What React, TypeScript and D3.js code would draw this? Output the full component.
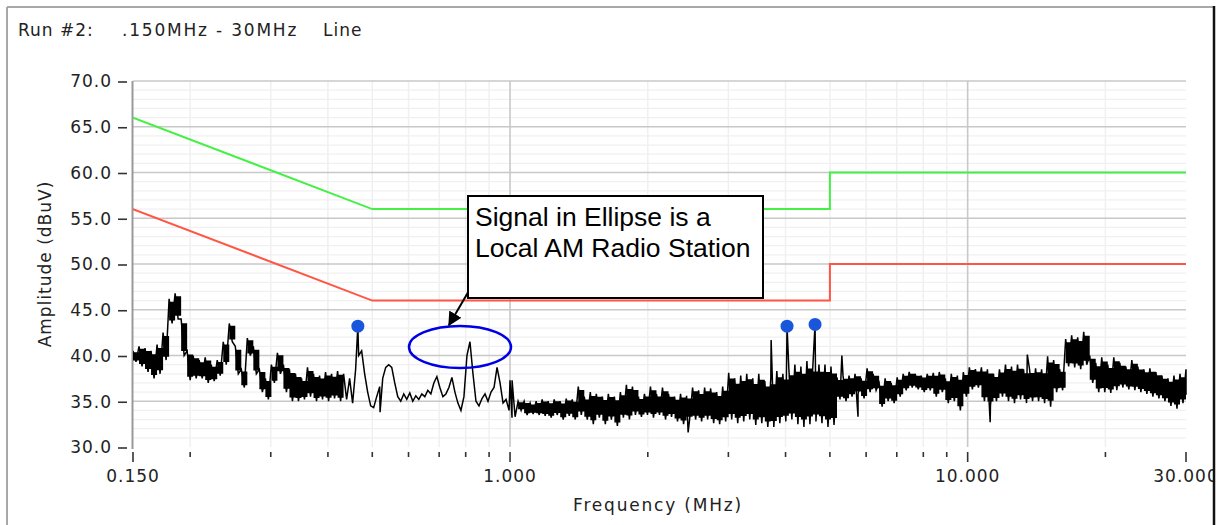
import React, { useEffect } from 'react';
import * as d3 from 'd3';

const SWEEP_START = 0.15;
const SWEEP_STOP = 30;

// Measured trace, per sweep bin: first and second reading of each bin (dBuV)
const traceHi = [
  40.5, 41.0, 40.8, 40.5, 41.2, 42.5, 46.2, 46.8, 44.0, 40.5,
  40.0, 39.5, 39.8, 39.0, 39.5, 41.5, 43.5, 41.0, 38.5, 41.9,
  41.0, 38.5, 37.5, 39.0, 40.3, 39.0, 38.5, 38.0, 37.5, 38.7,
  38.0, 37.8, 38.2, 38.0, 38.3, 38.0, 37.5, 38.5, 40.5, 36.0,
  34.3, 36.6, 38.7, 38.7, 35.5, 35.8, 35.9, 35.6, 35.8, 36.2,
  37.0, 36.5, 35.8, 37.6, 34.8, 35.5, 41.5, 35.0, 35.3, 35.0,
  36.5, 37.0, 35.2, 37.3, 35.0, 35.0, 34.8, 35.0, 35.2, 35.0,
  35.2, 35.0, 35.3, 35.2, 36.6, 35.5, 36.0, 35.8, 35.5, 35.8,
  35.5, 36.0, 36.8, 36.6, 35.5, 35.8, 36.6, 35.8, 36.5, 35.8,
  35.5, 35.8, 35.6, 36.5, 36.2, 36.5, 36.4, 36.0, 36.6, 38.1,
  37.5, 37.8, 38.0, 37.5, 38.0, 37.2, 37.5, 38.3, 38.0, 38.5,
  39.0, 38.8, 39.4, 39.0, 39.0, 39.0, 38.8, 37.6, 37.8, 37.8,
  38.0, 37.5, 38.6, 38.0, 37.0, 37.5, 37.0, 37.6, 38.0, 38.2,
  38.0, 37.8, 38.0, 38.1, 38.2, 37.5, 38.0, 37.8, 38.2, 38.7,
  38.5, 38.7, 38.5, 38.0, 38.5, 39.0, 38.8, 39.0, 38.5, 38.5,
  38.6, 38.5, 39.9, 39.5, 38.5, 41.8, 42.2, 42.0, 42.6, 40.0,
  39.2, 39.8, 39.0, 39.8, 39.2, 38.8, 39.5, 38.8, 38.5, 38.6,
  38.2, 37.8, 37.5, 37.8, 38.0, 38.5,
];
const traceLo = [
  39.3, 38.8, 38.2, 37.5, 38.0, 39.5, 43.5, 44.0, 40.0, 37.3,
  37.5, 37.5, 37.0, 37.2, 37.8, 39.0, 41.5, 38.0, 36.5, 40.0,
  38.0, 36.0, 35.2, 37.0, 38.0, 36.0, 35.0, 35.0, 35.2, 35.5,
  35.0, 35.2, 35.0, 35.3, 35.0, 35.2, 34.8, 40.0, 38.0, 34.5,
  35.5, 37.5, 39.0, 37.0, 35.0, 35.2, 35.0, 35.2, 35.5, 35.8,
  37.7, 35.5, 36.5, 36.0, 34.0, 40.0, 38.0, 34.5, 35.8, 36.0,
  38.7, 34.8, 34.0, 33.3, 34.0, 33.5, 33.6, 33.5, 33.4, 33.2,
  33.5, 33.0, 33.4, 33.0, 33.5, 33.0, 32.5, 33.2, 32.5, 33.0,
  32.3, 33.2, 33.0, 33.5, 33.3, 33.5, 33.2, 33.5, 33.0, 33.3,
  32.8, 32.5, 33.0, 33.0, 32.8, 33.0, 32.6, 32.5, 32.8, 33.0,
  32.6, 32.8, 33.0, 32.4, 32.6, 32.2, 32.2, 32.6, 32.8, 33.0,
  32.5, 32.2, 32.5, 32.8, 32.6, 32.2, 32.4, 35.2, 35.0, 35.5,
  35.8, 35.3, 36.0, 36.2, 34.4, 35.0, 34.8, 35.5, 36.2, 36.5,
  36.3, 36.0, 36.2, 35.5, 36.0, 34.8, 35.0, 34.0, 35.5, 36.3,
  36.5, 35.0, 34.5, 35.0, 35.5, 35.0, 34.8, 35.2, 34.8, 35.0,
  35.0, 34.8, 34.4, 36.0, 36.2, 38.8, 38.7, 38.5, 39.0, 37.0,
  36.0, 36.0, 35.9, 36.2, 36.5, 36.3, 36.2, 36.0, 35.8, 35.5,
  35.3, 35.0, 34.5, 34.2, 34.8, 35.7,
];

// isolated narrow spikes in the trace
const spikeFreq = [0.52, 1.0, 1.01, 2.45, 3.72, 5.31, 5.76, 11.2, 13.5];
const spikeVal = [33.8, 37.3, 33.2, 31.6, 41.7, 40.0, 33.3, 32.7, 40.1];

const markerFreq = [0.465, 4.03, 4.64];
const markerVal = [43.2, 43.2, 43.4];

const limitFreq = [0.15, 0.5, 5, 5, 30];
const quasiPeakLimit = [66, 56, 56, 60, 60];
const averageLimit = [56, 46, 46, 50, 50];

// frequency ranges where the trace is a dense noise band
const noisyRanges = [[0.15, 0.445], [1.02, 30]];

const yTicks = [30, 35, 40, 45, 50, 55, 60, 65, 70];
const yMinor = [31, 32, 33, 34, 36, 37, 38, 39, 41, 42, 43, 44, 46, 47, 48, 49, 51, 52, 53, 54, 56, 57, 58, 59, 61, 62, 63, 64, 66, 67, 68, 69];
const xMajor = [0.15, 1, 10, 30];
const xMinor = [0.2, 0.3, 0.4, 0.5, 0.6, 0.7, 0.8, 0.9, 2, 3, 4, 5, 6, 7, 8, 9, 20];
const xGridMajor = [1, 10];

const titleParts = ['Run #2:', '.150MHz - 30MHz', 'Line'];
const noteLines = ['Signal in Ellipse is a', 'Local AM Radio Station'];

const FONT = 'DejaVu Sans, Verdana, sans-serif';

export default function App() {
  useEffect(() => {
    document.body.style.margin = '0';
    document.body.style.overflow = 'hidden';
  }, []);

  const x = d3.scaleLog().domain([SWEEP_START, SWEEP_STOP]).range([133, 1186]);
  const y = d3.scaleLinear().domain([30, 70]).range([447, 81]);
  const [x0, x1] = x.range();

  const n = traceHi.length;
  const ratio = SWEEP_STOP / SWEEP_START;
  const binF = (k: number) => SWEEP_START * Math.pow(ratio, Math.min(k, n - 1) / (n - 1));
  const pts: [number, number][] = [];
  const band: { f: number; a: number; b: number }[] = [];
  for (let i = 0; i < n; i++) {
    pts.push([binF(i), traceHi[i]]);
    pts.push([binF(i + 0.5), traceLo[i]]);
    const h = Math.max(traceHi[i], traceLo[i]);
    const l = Math.min(traceHi[i], traceLo[i]);
    const d = h - l;
    band.push({ f: binF(i), a: l + d * 0.12, b: h - d * 0.12 });
  }
  markerFreq.forEach((f, i) => pts.push([f, markerVal[i]]));
  spikeFreq.forEach((f, i) => pts.push([f, spikeVal[i]]));
  pts.sort((a, b) => a[0] - b[0]);

  const inNoisy = (f: number) => noisyRanges.some(r => f >= r[0] && f <= r[1]);

  const line = d3.line<[number, number]>().x(d => x(d[0])).y(d => y(d[1]));
  const area = d3
    .area<{ f: number; a: number; b: number }>()
    .defined(d => inNoisy(d.f))
    .curve(d3.curveStepAfter)
    .x(d => x(d.f))
    .y0(d => y(d.a))
    .y1(d => y(d.b));
  const qp = line(limitFreq.map((f, i) => [f, quasiPeakLimit[i]] as [number, number]))!;
  const av = line(limitFreq.map((f, i) => [f, averageLimit[i]] as [number, number]))!;
  const trace = line(pts)!;
  const core = area(band)!;

  const fmtY = d3.format('.1f');
  const fmtX = d3.format('.3f');

  return (
    <svg width={1225} height={525} style={{ position: 'absolute', left: 0, top: 0, background: '#fff' }}>
      <defs>
        <clipPath id="plot">
          <rect x={x0} y={60} width={x1 - x0 + 2} height={400} />
        </clipPath>
        <marker id="arr" viewBox="0 0 10 10" refX="9" refY="5" markerWidth="7" markerHeight="7" orient="auto">
          <path d="M0,0 L10,5 L0,10 z" fill="#000" />
        </marker>
      </defs>
      <rect x={0} y={0} width={1225} height={525} fill="#fff" />

      {/* title */}
      <g fontFamily={FONT} fontSize={17} fill="#222" letterSpacing={1}>
        <text x={18} y={36}>{titleParts[0]}</text>
        <text x={122} y={36} letterSpacing={1.8}>{titleParts[1]}</text>
        <text x={323} y={36}>{titleParts[2]}</text>
      </g>

      {/* grid */}
      <g>
        {yMinor.map(v => (
          <line key={'ym' + v} x1={x0} x2={x1} y1={y(v)} y2={y(v)} stroke="#f0f0f0" strokeWidth={1.2} />
        ))}
        {xMinor.map(v => (
          <line key={'xm' + v} x1={x(v)} x2={x(v)} y1={y(70)} y2={y(30)} stroke="#f0f0f0" strokeWidth={1.5} />
        ))}
        {yTicks.filter(v => v > 30).map(v => (
          <line key={'yg' + v} x1={x0} x2={x1} y1={y(v)} y2={y(v)} stroke="#c8c8c8" strokeWidth={1.6} />
        ))}
        {xGridMajor.map(v => (
          <line key={'xg' + v} x1={x(v)} x2={x(v)} y1={y(70)} y2={y(30)} stroke="#c8c8c8" strokeWidth={1.6} />
        ))}
      </g>

      {/* y axis */}
      <line x1={x0 - 0.5} x2={x0 - 0.5} y1={y(70)} y2={y(30) + 2} stroke="#999" strokeWidth={2} />
      <g fontFamily={FONT} fontSize={17} fill="#222" letterSpacing={1}>
        {yTicks.map(v => (
          <g key={'yt' + v}>
            <line x1={118} x2={127} y1={y(v) + 1} y2={y(v) + 1} stroke="#333" strokeWidth={1.6} />
            <text x={112} y={y(v)} dy="0.38em" textAnchor="end">{fmtY(v)}</text>
          </g>
        ))}
      </g>

      {/* x ticks */}
      <g>
        {xMinor.map(v => (
          <line key={'xt' + v} x1={x(v)} x2={x(v)} y1={452} y2={457} stroke="#333" strokeWidth={1.6} />
        ))}
        {xMajor.map(v => (
          <line key={'xT' + v} x1={x(v)} x2={x(v)} y1={452} y2={462} stroke="#333" strokeWidth={1.6} />
        ))}
      </g>
      <g fontFamily={FONT} fontSize={17} fill="#222" letterSpacing={1} textAnchor="middle">
        {xMajor.map(v => (
          <text key={'xl' + v} x={x(v)} y={482}>{fmtX(v)}</text>
        ))}
        <text x={658} y={511} letterSpacing={1.8}>Frequency (MHz)</text>
        <text transform="translate(51,264) rotate(-90)" letterSpacing={1}>Amplitude (dBuV)</text>
      </g>

      {/* limits and trace */}
      <g clipPath="url(#plot)" fill="none">
        <path d={qp} stroke="#44f044" strokeWidth={2} />
        <path d={av} stroke="#ff5544" strokeWidth={2} />
        <path d={core} fill="#000" stroke="none" />
        <path d={trace} stroke="#000" strokeWidth={1.5} strokeLinejoin="miter" />
      </g>

      {/* markers */}
      {markerFreq.map((f, i) => (
        <circle key={'mk' + i} cx={x(f)} cy={y(markerVal[i])} r={6.5} fill="#1a56dc" />
      ))}

      {/* annotation */}
      <ellipse cx={460} cy={347} rx={51} ry={21} fill="none" stroke="#0000e6" strokeWidth={2.5} />
      <line x1={470} y1={289} x2={449} y2={325} stroke="#000" strokeWidth={2} markerEnd="url(#arr)" />
      <rect x={468} y={196} width={295} height={102} fill="#fff" stroke="#000" strokeWidth={2} />
      <g fontFamily="Liberation Sans, Arial, sans-serif" fontSize={26.5} fill="#000">
        <text x={475} y={226}>{noteLines[0]}</text>
        <text x={475} y={257}>{noteLines[1]}</text>
      </g>

      {/* frame */}
      <rect x={1213} y={0} width={12} height={525} fill="#fff" />
      <line x1={7} x2={1213} y1={7} y2={7} stroke="#a8a8a8" strokeWidth={2} />
      <line x1={7} x2={7} y1={7} y2={525} stroke="#a8a8a8" strokeWidth={2} />
      <line x1={1214} x2={1214} y1={6} y2={525} stroke="#111" strokeWidth={2.5} />
    </svg>
  );
}
